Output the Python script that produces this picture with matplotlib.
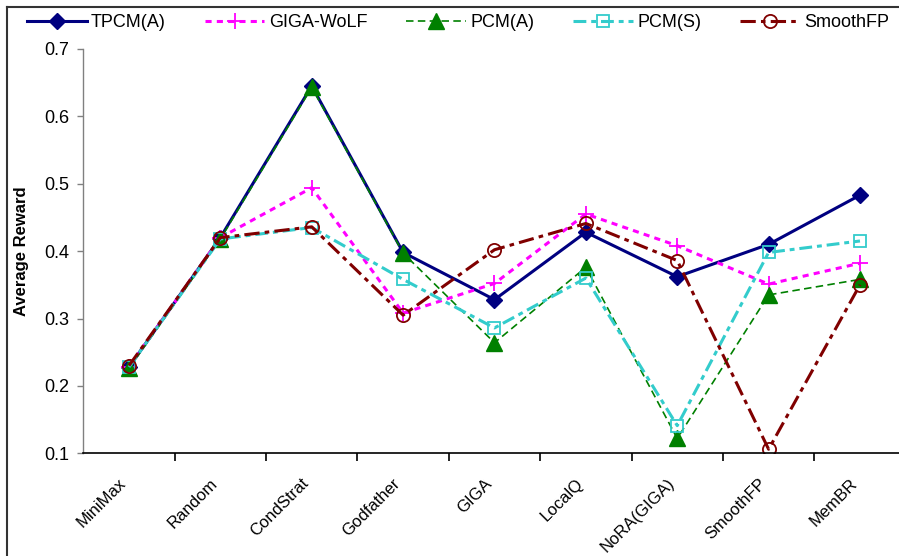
import matplotlib
matplotlib.use('Agg')
import matplotlib.pyplot as plt
from matplotlib.lines import Line2D
from matplotlib.ticker import FixedLocator, FormatStrFormatter

plt.rcParams['font.family'] = ['Liberation Sans', 'DejaVu Sans']

# data
opponents = ['MiniMax', 'Random', 'CondStrat', 'Godfather', 'GIGA',
             'LocalQ', 'NoRA(GIGA)', 'SmoothFP', 'MemBR']
tpcm_a = [0.228, 0.420, 0.645, 0.398, 0.328, 0.428, 0.362, 0.410, 0.483]
giga_wolf = [0.228, 0.420, 0.494, 0.308, 0.352, 0.455, 0.408, 0.351, 0.382]
pcm_a = [0.226, 0.418, 0.643, 0.397, 0.264, 0.376, 0.122, 0.335, 0.358]
pcm_s = [0.228, 0.418, 0.435, 0.358, 0.286, 0.360, 0.141, 0.398, 0.415]
smooth_fp = [0.230, 0.420, 0.436, 0.305, 0.402, 0.441, 0.386, 0.106, 0.350]
y_ticks = [0.1, 0.2, 0.3, 0.4, 0.5, 0.6, 0.7]

W, H = 899, 556
fig = plt.figure(figsize=(W / 100, H / 100), dpi=100)
fig.patch.set_facecolor('white')

# plot area in pixels (left edge, bottom of 0.1, top of 0.7)
x0, y_bot, y_top = 83.3, 453.3, 48.9
ax = fig.add_axes([x0 / W, 1 - y_bot / H, 1 - x0 / W, (y_bot - y_top) / H])

x = list(range(len(opponents)))

ax.plot(x, tpcm_a, color='#000080', lw=2.2, marker='D', ms=8.5,
        mfc='#000080', mec='#000080', label='TPCM(A)')
ax.plot(x, giga_wolf, color='#FF00FF', lw=2.2, ls=(0, (2.0, 1.7)),
        marker='+', ms=12, mew=1.3, label='GIGA-WoLF')
ax.plot(x, pcm_a, color='#008000', lw=1.2, ls=(0, (4.5, 2.6)),
        marker='^', ms=11, mfc='#008000', mec='#008000', label='PCM(A)')
ax.plot(x, pcm_s, color='#33CCCC', lw=2.2, ls=(0, (4.2, 1.6, 1.6, 1.6)),
        marker='s', ms=9, mfc='none', mec='#33CCCC', mew=1.3, label='PCM(S)')
ax.plot(x, smooth_fp, color='#800000', lw=2.2, ls=(0, (5.0, 1.7, 1.5, 1.7)),
        marker='o', ms=9.5, mfc='none', mec='#800000', mew=1.3, label='SmoothFP')

ax.set_xlim(-0.5, (W - x0) / ((860 - 129) / 8) - 0.5)
ax.set_ylim(0.1, 0.7)

for s in ['top', 'right']:
    ax.spines[s].set_visible(False)
ax.spines['left'].set_color('#808080')
ax.spines['left'].set_linewidth(1.0)
ax.spines['bottom'].set_color('black')
ax.spines['bottom'].set_linewidth(1.2)

ax.set_yticks(y_ticks)
ax.yaxis.set_major_formatter(FormatStrFormatter('%.1f'))
ax.tick_params(axis='y', direction='out', length=4, width=1, color='#808080',
               pad=6, labelsize=13)

ax.set_xticks(x)
ax.set_xticklabels(opponents, rotation=45, ha='right', va='top', fontsize=12)
ax.tick_params(axis='x', which='major', length=0, pad=16)
ax.xaxis.set_minor_locator(FixedLocator([i - 0.5 for i in range(1, len(opponents) + 1)]))
ax.tick_params(axis='x', which='minor', direction='out', length=6, width=1.2,
               color='black')

ax.set_ylabel('Average Reward', fontsize=12, fontweight='bold')
ax.yaxis.set_label_coords(-(x0 - 29) / (W - x0), 0.5)

fig.legend(loc='center left', bbox_to_anchor=(27 / W, 1 - 22.7 / H),
           ncol=5, frameon=False, fontsize=13, borderpad=0, borderaxespad=0,
           handlelength=3.3, handletextpad=0.25, columnspacing=2.15)

# chart-area border (cut off at right and bottom)
fig.add_artist(Line2D([6.5 / W, 6.5 / W], [0, 1 - 7 / H], color='#333333',
                      lw=1.5, transform=fig.transFigure))
fig.add_artist(Line2D([6.5 / W, 1], [1 - 7 / H, 1 - 7 / H], color='#333333',
                      lw=1.5, transform=fig.transFigure))

fig.savefig('out.png', dpi=100, facecolor='white')
